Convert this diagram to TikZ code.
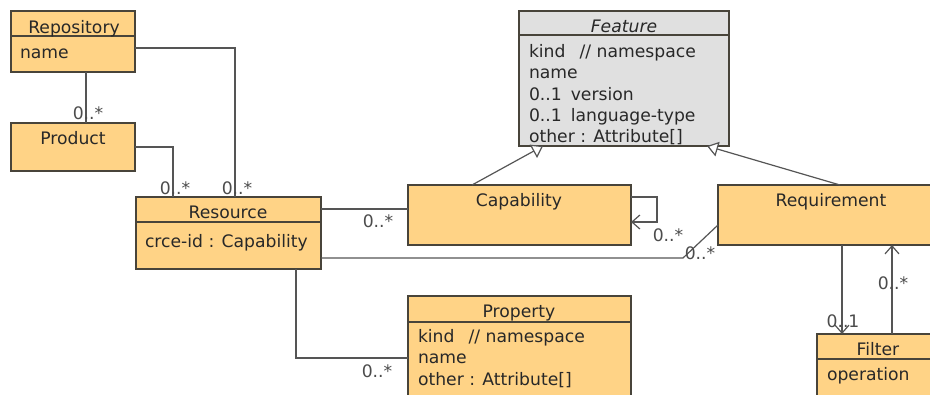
\documentclass[tikz,border=0pt]{standalone}
\usepackage{fontspec}
\setmainfont{DejaVu Sans}
\usetikzlibrary{arrows.meta}
\definecolor{boxfill}{RGB}{255,211,134}
\definecolor{featfill}{RGB}{224,224,224}
\definecolor{edgecol}{RGB}{72,68,58}
\definecolor{wirecol}{RGB}{85,85,85}
\definecolor{textcol}{RGB}{40,40,40}
\begin{document}
\begin{tikzpicture}[x=1pt,y=-1pt,
  classbox/.style={draw=edgecol, line width=1.3pt, fill=boxfill, anchor=north west, inner sep=0pt, outer sep=0pt},
  featbox/.style={classbox, fill=featfill},
  sepline/.style={draw=edgecol, line width=1.3pt},
  txt/.style={inner sep=0pt, outer sep=0pt, text=textcol, font=\fontsize{17.2}{20}\selectfont},
  title/.style={txt, anchor=base},
  attr/.style={txt, anchor=base west},
  mult/.style={txt, anchor=center, text=black!70},
  wire/.style={draw=wirecol, line width=1.2pt},
  nav/.style={wire, -{Straight Barb[length=8pt,width=14pt,line width=1.2pt]}},
  gen/.style={wire, -{Triangle[open, fill=white, length=11pt, width=15pt, line width=1.2pt]}}
]
\useasboundingbox (0,0) rectangle (930,394);
\clip (0,0) rectangle (930,394);
\fill[white] (0,0) rectangle (930,394);

% boxes
\node[classbox, minimum width=124pt, minimum height=61pt] (repo) at (11,11) {};
\node[classbox, minimum width=124pt, minimum height=48pt] (prod) at (11,123) {};
\node[classbox, minimum width=185pt, minimum height=72pt] (res) at (136,197) {};
\node[featbox, minimum width=210pt, minimum height=135pt] (feat) at (519,11) {};
\node[classbox, minimum width=223pt, minimum height=60pt] (cap) at (408,185) {};
\node[classbox, minimum width=220pt, minimum height=60pt] (req) at (718,185) {};
\node[classbox, minimum width=223pt, minimum height=110pt] (prop) at (408,296) {};
\node[classbox, minimum width=120pt, minimum height=70pt] (filt) at (817,334) {};

% compartment separators
\draw[sepline] ([yshift=-25pt]repo.north west) -- ([yshift=-25pt]repo.north east);
\draw[sepline] ([yshift=-25pt]res.north west) -- ([yshift=-25pt]res.north east);
\draw[sepline] ([yshift=-24pt]feat.north west) -- ([yshift=-24pt]feat.north east);
\draw[sepline] ([yshift=-26pt]prop.north west) -- ([yshift=-26pt]prop.north east);
\draw[sepline] ([yshift=-25pt]filt.north west) -- ([yshift=-25pt]filt.north east);

% texts
\node[title] (repoT) at (74,33) {Repository};
\node[attr] (repoA) at (20,58) {name};
\node[title] (prodT) at (73,144) {Product};
\node[title] (resT) at (228,218) {Resource};
\node[attr] (resA) at (145,247) {crce-id : Capability};
\node[title] (featT) at (624,32) {\itshape Feature};
\node[attr] (featA1) at (529,57) {kind\hspace{14pt}// namespace};
\node[attr] (featA2) at (529,78) {name};
\node[attr] (featA3) at (529,100) {0..1\hspace{9pt}version};
\node[attr] (featA4) at (529,121) {0..1\hspace{9pt}language-type};
\node[attr] (featA5) at (529,142) {other : Attribute[]};
\node[title] (capT) at (519,206) {Capability};
\node[title] (reqT) at (831,206) {Requirement};
\node[title] (propT) at (519,317) {Property};
\node[attr] (propA1) at (418,342) {kind\hspace{14pt}// namespace};
\node[attr] (propA2) at (418,363) {name};
\node[attr] (propA3) at (418,385) {other : Attribute[]};
\node[title] (filtT) at (878,355) {Filter};
\node[attr] (filtA) at (827,380) {operation};

% connectors
\draw[wire] ([xshift=13pt]repo.south) -- ([xshift=13pt]repo.south |- prod.north);
\draw[wire] ([yshift=-37pt]repo.north east) -| ([xshift=6.5pt]res.north);
\draw[wire] ([yshift=-24pt]prod.north east) -| ([xshift=-55.5pt]res.north);
\draw[wire] ([yshift=-12pt]res.north east) -- ([yshift=-24pt]cap.north west);
\coordinate (bend) at (683,258);
\draw[wire] ([yshift=-61pt]res.north east) -- (bend) -- ([yshift=-40pt]req.north west);
\draw[wire] ([xshift=-25pt]res.south east) |- ([yshift=-62pt]prop.north west);
\draw[nav] ([yshift=-12pt]cap.north east) -- ++(26,0) -- ++(0,25) -- ([yshift=-37pt]cap.north east);
\draw[gen] ([xshift=-47.5pt]cap.north) -- ([xshift=-81pt]feat.south);
\draw[gen] ([xshift=12pt]req.north) -- ([xshift=83pt]feat.south);
\draw[nav] ([xshift=14pt]req.south) -- ([xshift=-35pt]filt.north);
\draw[nav] ([xshift=15pt]filt.north) -- ([xshift=64pt]req.south);

% multiplicities
\node[mult] (m1) at (88,113) {0..*};
\node[mult] (m2) at (237,188) {0..*};
\node[mult] (m3) at (175,188) {0..*};
\node[mult] (m4) at (378,221) {0..*};
\node[mult] (m5) at (668,235) {0..*};
\node[mult] (m6) at (700,253) {0..*};
\node[mult] (m7) at (377,371) {0..*};
\node[mult] (m8) at (843,321) {0..1};
\node[mult] (m9) at (893,283) {0..*};
\end{tikzpicture}
\end{document}
